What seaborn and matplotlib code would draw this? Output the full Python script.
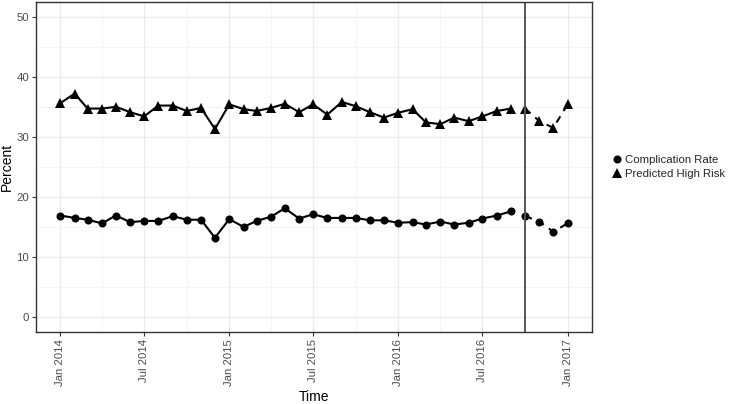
import matplotlib
matplotlib.use("Agg")
import matplotlib.pyplot as plt
import matplotlib.dates as mdates
from matplotlib.lines import Line2D
import pandas as pd
import seaborn as sns

# monthly values, Jan 2014 .. Jan 2017
months = pd.date_range("2014-01-01", "2017-01-01", freq="MS")
complication_rate = [
    16.9, 16.5, 16.2, 15.6, 16.9, 15.8, 16.0, 16.0, 16.8, 16.2, 16.2, 13.2,
    16.3, 15.0, 16.0, 16.7, 18.1, 16.4, 17.1, 16.5, 16.5, 16.5, 16.1, 16.1,
    15.7, 15.8, 15.4, 15.9, 15.4, 15.7, 16.4, 16.9, 17.6, 16.8, 15.9, 14.2,
    15.6,
]
predicted_high_risk = [
    35.6, 37.2, 34.7, 34.7, 35.0, 34.1, 33.4, 35.2, 35.2, 34.3, 34.8, 31.3,
    35.4, 34.6, 34.3, 34.8, 35.5, 34.1, 35.4, 33.7, 35.8, 35.1, 34.1, 33.2,
    34.0, 34.6, 32.4, 32.1, 33.2, 32.6, 33.4, 34.3, 34.7, 34.7, 32.6, 31.5,
    35.4,
]
cutoff = pd.Timestamp("2016-10-01")
series_names = ["Complication Rate", "Predicted High Risk"]
series_markers = {"Complication Rate": "o", "Predicted High Risk": "^"}
marker_sizes = {"Complication Rate": 5.8, "Predicted High Risk": 6.6}

df = pd.concat([
    pd.DataFrame({"Time": months, "Percent": complication_rate, "series": series_names[0]}),
    pd.DataFrame({"Time": months, "Percent": predicted_high_risk, "series": series_names[1]}),
])
before = df[df["Time"] < cutoff]
after = df[df["Time"] >= cutoff]

sns.set_style("whitegrid")
plt.rcParams["font.family"] = ["Liberation Sans", "DejaVu Sans"]

fig = plt.figure(figsize=(7.34, 4.04), dpi=100)
ax = fig.add_axes([0.049, 0.178, 0.7575, 0.818])

for part, ls in [(before, "-"), (after, (0, (3.5, 3)))]:
    for name in series_names:
        sub = part[part["series"] == name]
        sns.lineplot(data=sub, x="Time", y="Percent", ax=ax, color="black",
                     marker=series_markers[name], markersize=marker_sizes[name],
                     markeredgewidth=0, linewidth=1.5, linestyle=ls, legend=False)

ax.axvline(cutoff, color="#555555", linewidth=1.4)

span = (months[-1] - months[0]) * 0.048
ax.set_xlim(months[0] - span, months[-1] + span)
ax.set_ylim(-2.5, 52.5)
ax.set_yticks([0, 10, 20, 30, 40, 50])
ax.set_yticks([5, 15, 25, 35, 45], minor=True)
ax.xaxis.set_major_locator(mdates.MonthLocator(bymonth=[1, 7]))
ax.xaxis.set_minor_locator(mdates.MonthLocator(bymonth=[4, 10]))
ax.xaxis.set_major_formatter(mdates.DateFormatter("%b %Y"))

ax.grid(which="major", color="#ebebeb", linewidth=0.9)
ax.grid(which="minor", color="#f4f4f4", linewidth=0.6)
for s in ax.spines.values():
    s.set_color("#333333")
    s.set_linewidth(1.0)
ax.tick_params(axis="both", which="major", length=3, width=0.8, color="#333333",
               labelcolor="#4d4d4d", labelsize=8.2, left=True, bottom=True, pad=2)
ax.tick_params(axis="both", which="minor", length=0)
plt.setp(ax.get_xticklabels(), rotation=90, ha="center", va="top")
ax.set_xlabel("Time", fontsize=10, color="black", labelpad=3)
ax.set_ylabel("Percent", fontsize=10, color="black")
ax.yaxis.set_label_coords(-0.039, 0.5)

handles = [Line2D([], [], color="black", marker=series_markers[n], linestyle="none",
                  markersize=marker_sizes[n], markeredgewidth=0) for n in series_names]
fig.legend(handles, series_names, loc="center left", bbox_to_anchor=(0.827, 0.587),
           frameon=False, fontsize=8.2, handletextpad=0.2, labelspacing=0.4,
           handlelength=1.0, borderaxespad=0)

plt.savefig("out.png", dpi=100)
plt.close()
